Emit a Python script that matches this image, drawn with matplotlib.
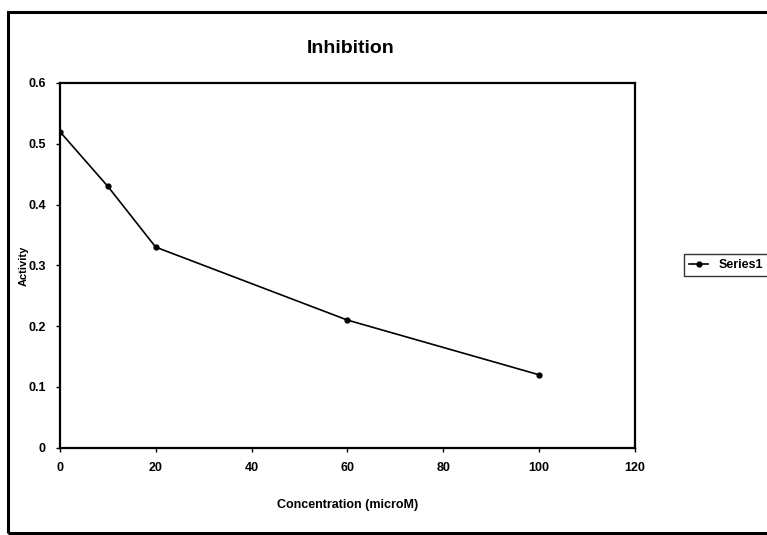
import matplotlib
matplotlib.use("Agg")
import matplotlib.pyplot as plt
from matplotlib.patches import Rectangle

# data
concentration = [0, 10, 20, 60, 100]
activity = [0.52, 0.43, 0.33, 0.21, 0.12]
xticks = [0, 20, 40, 60, 80, 100, 120]
yticks = [0, 0.1, 0.2, 0.3, 0.4, 0.5, 0.6]
yticklabels = ['0', '0.1', '0.2', '0.3', '0.4', '0.5', '0.6']

plt.rcParams['font.family'] = ['Liberation Sans', 'DejaVu Sans']

fig = plt.figure(figsize=(7.67, 5.35), dpi=100)
ax = fig.add_axes([0.078, 0.163, 0.75, 0.682])

# outer chart frame
fig.patches.append(Rectangle((0.011, 0.004), 1.2, 0.974, transform=fig.transFigure,
                             fill=False, edgecolor='black', linewidth=2.2))

ax.plot(concentration, activity, color='black', linewidth=1.2,
        marker='o', markersize=3.5, label='Series1')

ax.set_xlim(0, 120)
ax.set_ylim(0, 0.6)
ax.set_xticks(xticks)
ax.set_yticks(yticks)
ax.set_yticklabels(yticklabels)
for lab in ax.get_xticklabels() + ax.get_yticklabels():
    lab.set_fontweight('heavy')
    lab.set_fontsize(9)
ax.tick_params(direction='out', length=3, width=1, pad=7)

for s in ax.spines.values():
    s.set_linewidth(1.6)

fig.text(0.457, 0.91, 'Inhibition', ha='center', va='center',
         fontsize=14, fontweight='heavy')
ax.set_xlabel('Concentration (microM)', fontsize=9, fontweight='heavy', labelpad=18)
ax.set_ylabel('Activity', fontsize=8, fontweight='heavy', labelpad=0)

leg = ax.legend(loc='center left', bbox_to_anchor=(1.075, 0.5), fontsize=9,
                frameon=True, fancybox=False, edgecolor='black',
                handlelength=1.5, borderpad=0.4)
for t in leg.get_texts():
    t.set_fontweight('heavy')

fig.savefig('out.png', dpi=100)
